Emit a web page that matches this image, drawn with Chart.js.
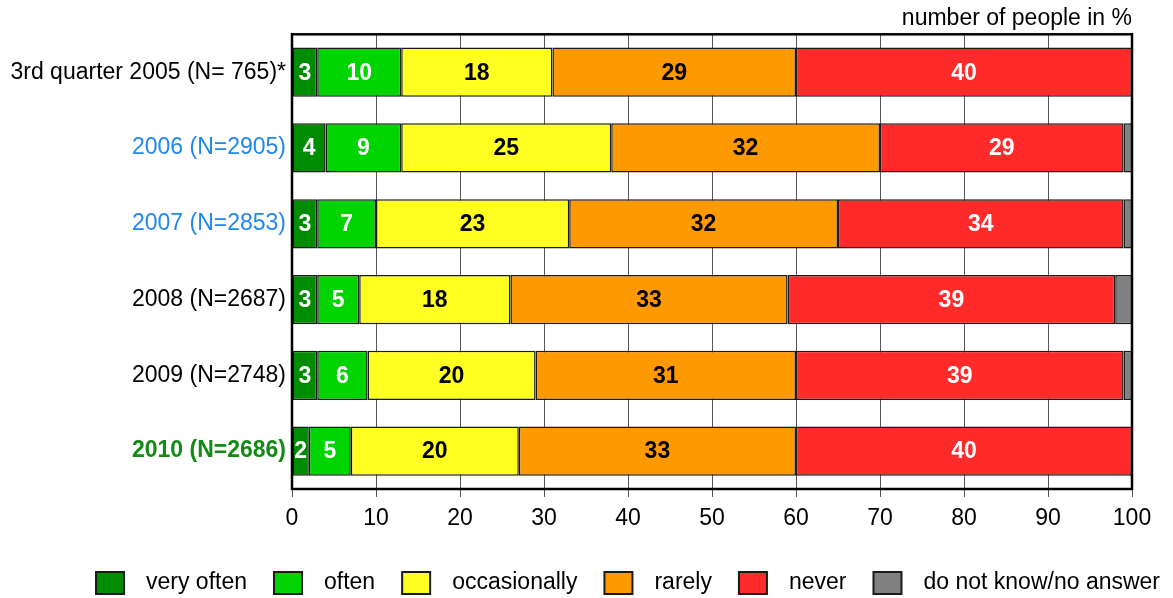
<!DOCTYPE html>
<html>
<head>
<meta charset="utf-8">
<script src="https://cdn.jsdelivr.net/npm/chart.js@4"></script>
<style>
  html, body { margin: 0; padding: 0; background: #fff; }
  #wrap { width: 1173px; height: 598px; }
</style>
</head>
<body>
<div id="wrap"><canvas id="chart" width="1173" height="598"></canvas></div>
<script>
const years = ['3rd quarter 2005 (N= 765)*', '2006 (N=2905)', '2007 (N=2853)', '2008 (N=2687)', '2009 (N=2748)', '2010 (N=2686)'];
const veryOften = [3, 4, 3, 3, 3, 2];
const often = [10, 9, 7, 5, 6, 5];
const occasionally = [18, 25, 23, 18, 20, 20];
const rarely = [29, 32, 32, 33, 31, 33];
const never = [40, 29, 34, 39, 39, 40];
const noAnswer = [0, 1, 1, 2, 1, 0];
const xTicks = [0, 10, 20, 30, 40, 50, 60, 70, 80, 90, 100];

const yearColors = ['#000000', '#1e88f0', '#1e88f0', '#000000', '#000000', '#138a13'];

const colors = {
  veryOften: '#008c00',
  often: '#00d400',
  occasionally: '#ffff22',
  rarely: '#ff9900',
  never: '#ff2a2a',
  noAnswer: '#808080'
};

const FONT = '"Liberation Sans", Arial, sans-serif';

function makeSet(label, data, color, textColor) {
  return {
    label: label,
    data: data,
    backgroundColor: color,
    borderColor: '#1a1a1a',
    borderWidth: 1.5,
    borderSkipped: false,
    barPercentage: 0.65,
    categoryPercentage: 1,
    textColor: textColor
  };
}

// black box round the plot area
const frame = {
  id: 'frame',
  afterDatasetsDraw(chart) {
    const { ctx, chartArea } = chart;
    ctx.save();
    ctx.strokeStyle = '#000';
    ctx.lineWidth = 2.5;
    ctx.strokeRect(chartArea.left, chartArea.top, chartArea.right - chartArea.left, chartArea.bottom - chartArea.top);
    ctx.restore();
  }
};

const barLabels = {
  id: 'barLabels',
  afterDatasetsDraw(chart) {
    const ctx = chart.ctx;
    ctx.save();
    ctx.font = 'bold 23px ' + FONT;
    ctx.textAlign = 'center';
    ctx.textBaseline = 'middle';
    chart.data.datasets.forEach((ds, i) => {
      if (!ds.textColor) return;
      const meta = chart.getDatasetMeta(i);
      meta.data.forEach((bar, j) => {
        const v = ds.data[j];
        if (!v) return;
        const p = bar.getCenterPoint();
        ctx.fillStyle = ds.textColor;
        ctx.fillText(String(v), p.x, p.y + 1);
      });
    });
    ctx.restore();
  }
};

// legend row at the bottom, box then text with wide gaps
const bottomLegend = {
  id: 'bottomLegend',
  afterDraw(chart) {
    const ctx = chart.ctx;
    ctx.save();
    ctx.font = '23px ' + FONT;
    ctx.textBaseline = 'middle';
    let x = 96;
    const y = 583;
    chart.data.datasets.forEach(ds => {
      ctx.fillStyle = ds.backgroundColor;
      ctx.fillRect(x, y - 11, 28, 22);
      ctx.strokeStyle = '#1a1a1a';
      ctx.lineWidth = 2;
      ctx.strokeRect(x, y - 11, 28, 22);
      ctx.fillStyle = '#000';
      ctx.fillText(ds.label, x + 50, y);
      x += 50 + ctx.measureText(ds.label).width + 27;
    });
    ctx.restore();
  }
};

new Chart(document.getElementById('chart'), {
  type: 'bar',
  data: {
    labels: years,
    datasets: [
      makeSet('very often', veryOften, colors.veryOften, '#ffffff'),
      makeSet('often', often, colors.often, '#ffffff'),
      makeSet('occasionally', occasionally, colors.occasionally, '#000000'),
      makeSet('rarely', rarely, colors.rarely, '#000000'),
      makeSet('never', never, colors.never, '#ffffff'),
      makeSet('do not know/no answer', noAnswer, colors.noAnswer, null)
    ]
  },
  options: {
    indexAxis: 'y',
    responsive: false,
    animation: false,
    layout: { padding: { left: 0, right: 41, top: 0, bottom: 0 } },
    plugins: {
      legend: { display: false },
      tooltip: { enabled: false },
      title: {
        display: true,
        text: 'number of people in %',
        align: 'end',
        color: '#000',
        font: { family: FONT, size: 23, weight: 'normal', lineHeight: 1.1 },
        padding: { top: 6, bottom: 3 }
      }
    },
    scales: {
      x: {
        stacked: true,
        min: 0,
        max: 100,
        afterBuildTicks(scale) {
          scale.ticks = xTicks.map(v => ({ value: v }));
        },
        afterFit(scale) { scale.height = 109; },
        grid: { color: '#555', lineWidth: 1, tickLength: 8, drawTicks: true },
        border: { display: false },
        ticks: {
          color: '#000',
          padding: 8,
          maxRotation: 0,
          font: { family: FONT, size: 23 }
        }
      },
      y: {
        stacked: true,
        afterFit(scale) { scale.width = 292; },
        grid: { display: false, drawTicks: false },
        border: { display: false },
        ticks: {
          padding: 6,
          color: c => yearColors[c.index],
          font: c => ({ family: FONT, size: 23, weight: c.index === 5 ? 'bold' : 'normal' })
        }
      }
    }
  },
  plugins: [frame, barLabels, bottomLegend]
});
</script>
</body>
</html>
